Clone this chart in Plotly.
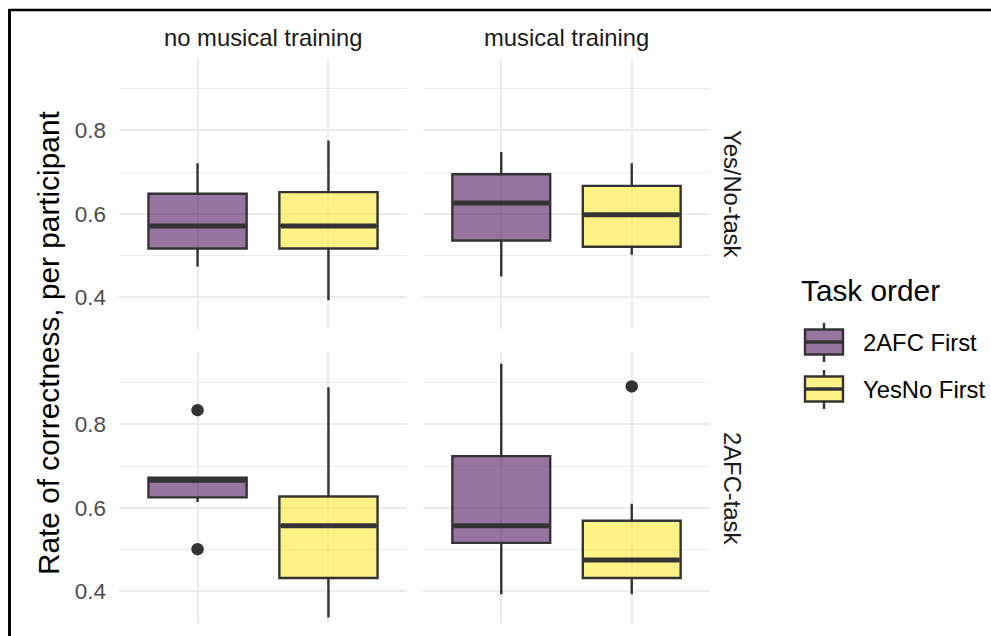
import plotly.graph_objects as go

# ---- data -------------------------------------------------------------
trainings = ["no musical training", "musical training"]
tasks = ["Yes/No-task", "2AFC-task"]
orders = ["2AFC First", "YesNo First"]

# summary statistics per panel, ordered (task, training):
# (Yes/No, none), (Yes/No, musical), (2AFC, none), (2AFC, musical)
q1_2afc = [0.517, 0.536, 0.625, 0.516]
median_2afc = [0.571, 0.626, 0.666, 0.557]
q3_2afc = [0.648, 0.695, 0.672, 0.724]
lower_2afc = [0.474, 0.450, 0.614, 0.393]
upper_2afc = [0.721, 0.748, 0.672, 0.945]
outliers_2afc = [[], [], [0.834, 0.501], []]

q1_yesno = [0.517, 0.521, 0.432, 0.432]
median_yesno = [0.571, 0.598, 0.557, 0.475]
q3_yesno = [0.652, 0.667, 0.627, 0.569]
lower_yesno = [0.393, 0.502, 0.337, 0.393]
upper_yesno = [0.776, 0.721, 0.889, 0.610]
outliers_yesno = [[], [], [], [0.891]]

y_ticks = [0.4, 0.6, 0.8]

# ---- styling ----------------------------------------------------------
W, H = 991, 636
FONT = "Liberation Sans, Arial, sans-serif"
fills = {"2AFC First": "rgba(68,1,84,0.55)", "YesNo First": "rgba(253,231,37,0.55)"}
edge = "#333333"
grid = "#ebebeb"
box_w = 0.75

stats = {
    "2AFC First": dict(q1=q1_2afc, median=median_2afc, q3=q3_2afc,
                       lo=lower_2afc, hi=upper_2afc, out=outliers_2afc),
    "YesNo First": dict(q1=q1_yesno, median=median_yesno, q3=q3_yesno,
                        lo=lower_yesno, hi=upper_yesno, out=outliers_yesno),
}

def px_x(p):
    return p / W

def px_y(p):
    return 1 - p / H

# panel geometry (pixels)
col_px = [(119, 407), (423, 710)]
row_px = [(59, 329), (353, 623)]

fig = go.Figure()

for r, task in enumerate(tasks):
    for c, training in enumerate(trainings):
        idx = r * 2 + c
        ax = "" if idx == 0 else str(idx + 1)
        for k, order in enumerate(orders):
            s = stats[order]
            fig.add_trace(go.Box(
                x=[k], q1=[s["q1"][idx]], median=[s["median"][idx]],
                q3=[s["q3"][idx]], lowerfence=[s["lo"][idx]],
                upperfence=[s["hi"][idx]],
                width=box_w, whiskerwidth=0,
                fillcolor=fills[order], line=dict(color=edge, width=2.4),
                boxpoints=False, showlegend=False, hoverinfo="skip",
                xaxis="x" + ax, yaxis="y" + ax,
            ))
            # thicker median bar
            m = s["median"][idx]
            fig.add_trace(go.Scatter(
                x=[k - box_w / 2 + 0.01, k + box_w / 2 - 0.01], y=[m, m],
                mode="lines", line=dict(color=edge, width=5),
                showlegend=False, hoverinfo="skip",
                xaxis="x" + ax, yaxis="y" + ax,
            ))
            if s["out"][idx]:
                fig.add_trace(go.Scatter(
                    x=[k] * len(s["out"][idx]), y=s["out"][idx],
                    mode="markers", marker=dict(color=edge, size=12.5),
                    showlegend=False, hoverinfo="skip",
                    xaxis="x" + ax, yaxis="y" + ax,
                ))

layout = dict(
    width=W, height=H, margin=dict(l=0, r=0, t=0, b=0),
    paper_bgcolor="white", plot_bgcolor="white",
    font=dict(family=FONT, color="black"),
)

for r in range(2):
    for c in range(2):
        idx = r * 2 + c
        ax = "" if idx == 0 else str(idx + 1)
        x0, x1 = col_px[c]
        y0, y1 = row_px[r]
        layout["xaxis" + ax] = dict(
            domain=[px_x(x0), px_x(x1)], range=[-0.6, 1.6],
            tickvals=[0, 1], showticklabels=False, ticks="",
            showgrid=True, gridcolor=grid, gridwidth=1.5,
            zeroline=False, showline=False,
            anchor="y" + ax,
        )
        layout["yaxis" + ax] = dict(
            domain=[px_y(y1), px_y(y0)], range=[0.324, 0.971],
            tickvals=y_ticks, ticktext=[f"{v:.1f}" for v in y_ticks],
            showticklabels=(c == 0), ticks="", ticklabelstandoff=12,
            tickfont=dict(size=22.5, color="#4d4d4d", family=FONT),
            showgrid=True, gridcolor=grid, gridwidth=1.5,
            minor=dict(dtick=0.1, tick0=0, showgrid=True, gridcolor=grid, gridwidth=1.2),
            zeroline=False, showline=False,
            anchor="x" + ax,
        )

annotations = []
# column strips
for c, training in enumerate(trainings):
    x0, x1 = col_px[c]
    annotations.append(dict(
        text=training, x=px_x((x0 + x1) / 2), y=px_y(38), xref="paper", yref="paper",
        showarrow=False, xanchor="center", yanchor="middle",
        font=dict(size=23.8, color="#1a1a1a", family=FONT),
    ))
# row strips
for r, task in enumerate(tasks):
    y0, y1 = row_px[r]
    annotations.append(dict(
        text=task, x=px_x(733), y=px_y((y0 + y1) / 2), xref="paper", yref="paper",
        showarrow=False, xanchor="center", yanchor="middle", textangle=90,
        font=dict(size=23.8, color="#1a1a1a", family=FONT),
    ))
# y-axis title
annotations.append(dict(
    text="Rate of correctness, per participant", x=px_x(48), y=px_y(343),
    xref="paper", yref="paper", showarrow=False, xanchor="center", yanchor="middle",
    textangle=-90, font=dict(size=29.8, color="black", family=FONT),
))
# legend
annotations.append(dict(
    text="Task order", x=px_x(799), y=px_y(291), xref="paper", yref="paper",
    showarrow=False, xanchor="left", yanchor="middle",
    font=dict(size=29.8, color="black", family=FONT),
))

shapes = []
key_centers = [342, 389]
for k, order in enumerate(orders):
    cy = key_centers[k]
    kx0, kx1, kxm = 805, 843, 824
    # whisker
    shapes.append(dict(type="line", xref="paper", yref="paper",
                       x0=px_x(kxm), x1=px_x(kxm), y0=px_y(cy - 19), y1=px_y(cy + 20),
                       line=dict(color=edge, width=2.4)))
    # box
    shapes.append(dict(type="rect", xref="paper", yref="paper",
                       x0=px_x(kx0), x1=px_x(kx1), y0=px_y(cy - 12.5), y1=px_y(cy + 12.5),
                       fillcolor="white", line=dict(width=0)))
    shapes.append(dict(type="rect", xref="paper", yref="paper",
                       x0=px_x(kx0), x1=px_x(kx1), y0=px_y(cy - 12.5), y1=px_y(cy + 12.5),
                       fillcolor=fills[order], line=dict(color=edge, width=2.4)))
    # median
    shapes.append(dict(type="line", xref="paper", yref="paper",
                       x0=px_x(kx0), x1=px_x(kx1), y0=px_y(cy), y1=px_y(cy),
                       line=dict(color=edge, width=3.5)))
    annotations.append(dict(
        text=order, x=px_x(861), y=px_y(cy), xref="paper", yref="paper",
        showarrow=False, xanchor="left", yanchor="middle",
        font=dict(size=23.8, color="black", family=FONT),
    ))

# frame lines along the top and left edges
shapes.append(dict(type="line", xref="paper", yref="paper",
                   x0=px_x(9), x1=1, y0=px_y(10), y1=px_y(10),
                   line=dict(color="black", width=2.5)))
shapes.append(dict(type="line", xref="paper", yref="paper",
                   x0=px_x(9.5), x1=px_x(9.5), y0=0, y1=px_y(9),
                   line=dict(color="black", width=3)))

layout["annotations"] = annotations
layout["shapes"] = shapes
fig.update_layout(**layout)

fig.write_html("out.html")
